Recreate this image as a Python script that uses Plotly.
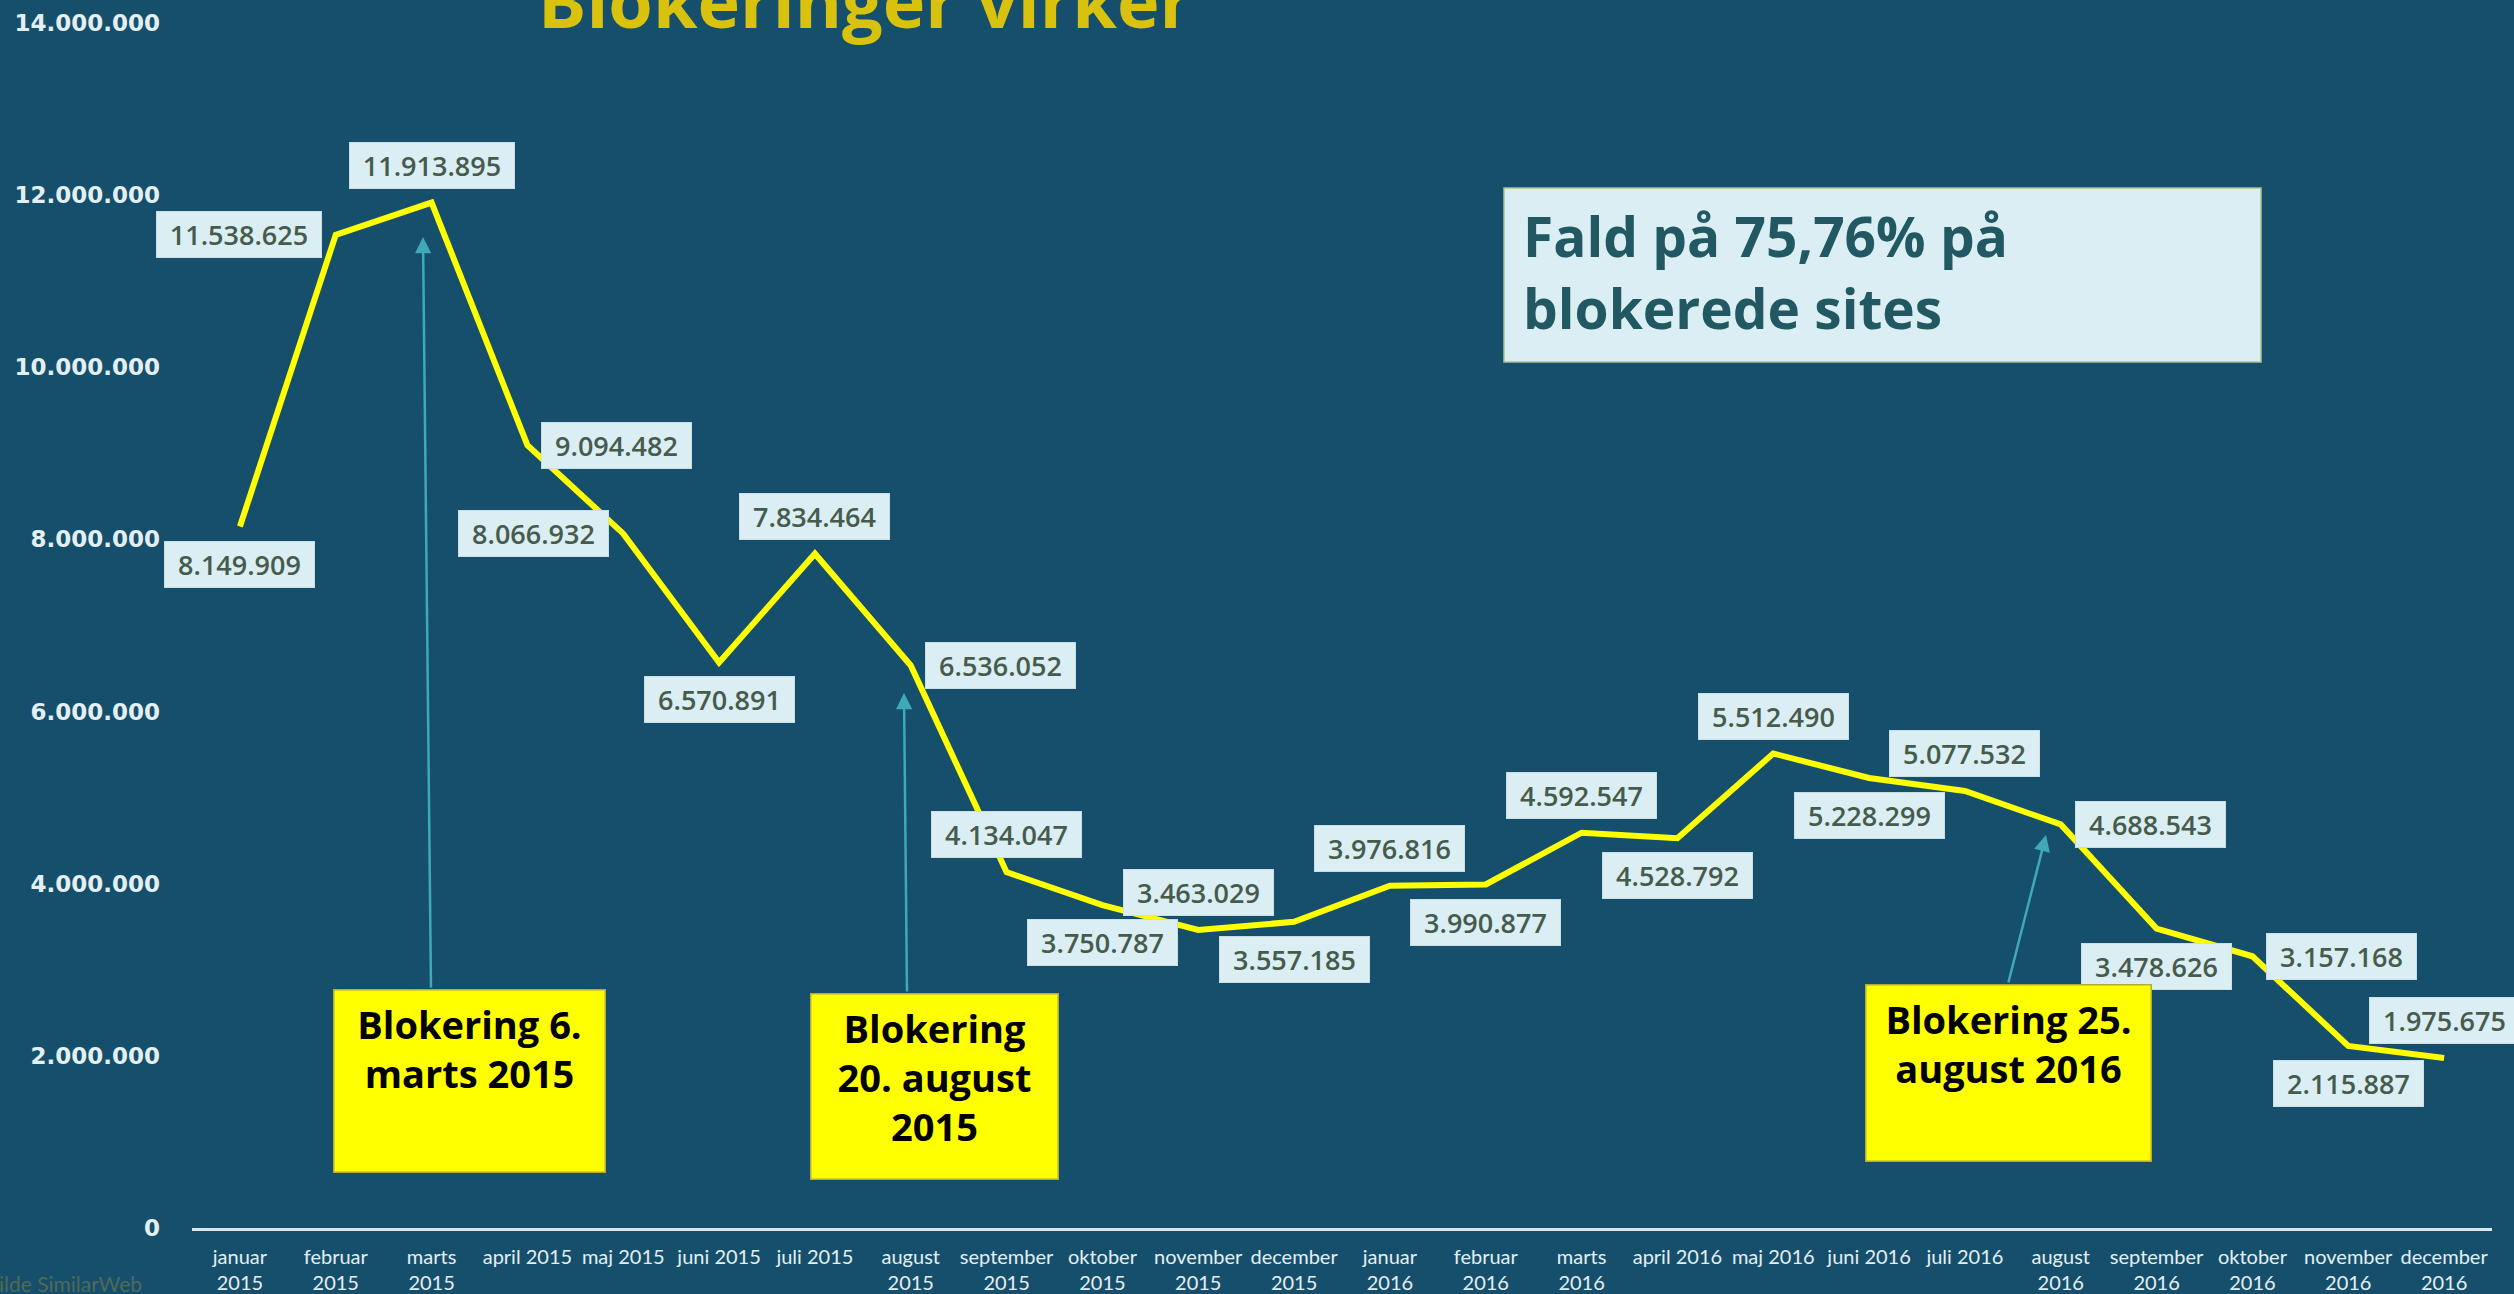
import plotly.graph_objects as go

# ---------------- data ----------------
months = ["januar 2015", "februar 2015", "marts 2015", "april 2015", "maj 2015", "juni 2015",
          "juli 2015", "august 2015", "september 2015", "oktober 2015", "november 2015", "december 2015",
          "januar 2016", "februar 2016", "marts 2016", "april 2016", "maj 2016", "juni 2016",
          "juli 2016", "august 2016", "september 2016", "oktober 2016", "november 2016", "december 2016"]

tick_labels = ["januar<br>2015", "februar<br>2015", "marts<br>2015", "april 2015", "maj 2015", "juni 2015",
               "juli 2015", "august<br>2015", "september<br>2015", "oktober<br>2015", "november<br>2015",
               "december<br>2015", "januar<br>2016", "februar<br>2016", "marts<br>2016", "april 2016",
               "maj 2016", "juni 2016", "juli 2016", "august<br>2016", "september<br>2016",
               "oktober<br>2016", "november<br>2016", "december<br>2016"]

visits = [8149909, 11538625, 11913895, 9094482, 8066932, 6570891, 7834464, 6536052,
          4134047, 3750787, 3463029, 3557185, 3976816, 3990877, 4592547, 4528792,
          5512490, 5228299, 5077532, 4688543, 3478626, 3157168, 2115887, 1975675]

label_side = ["below", "left", "above", "right", "left", "below", "above", "right",
              "above", "below", "above", "below", "above", "below", "above", "below",
              "above", "below", "above", "right", "below", "right", "below", "above"]

y_tick_vals = [0, 2000000, 4000000, 6000000, 8000000, 10000000, 12000000, 14000000]
y_tick_text = ["0", "2.000.000", "4.000.000", "6.000.000", "8.000.000", "10.000.000", "12.000.000", "14.000.000"]

title_text = "Blokeringer virker"
source_text = "Kilde SimilarWeb"
summary_text = "Fald på 75,76% på<br>blokerede sites"
events = ["Blokering 6.<br>marts 2015", "Blokering<br>20. august<br>2015", "Blokering 25.<br>august 2016"]

# ---------------- geometry helpers ----------------
W, H = 2514, 1294
ML, MR, MT, MB = 192, 22, 23, 66
PW = W - ML - MR
PH = H - MT - MB


def fx(px):
    return (px - ML) / PW


def fy(py):
    return (H - MB - py) / PH


BG = "#164f6c"
LABEL_BG = "#daeef3"
LABEL_FG = "#475b4d"
TICK_FG = "#e4eff3"

fig = go.Figure()
fig.add_trace(go.Scatter(
    x=months, y=visits, mode="lines",
    line=dict(color="#ffff00", width=6),
    hoverinfo="skip", showlegend=False, cliponaxis=False,
))

annotations = []

# data labels
for m, v, side in zip(months, visits, label_side):
    txt = f"{v:,}".replace(",", ".")
    w = 141 if len(txt) <= 9 else 156
    a = dict(x=m, y=v, xref="x", yref="y", text=txt, showarrow=False,
             font=dict(family="Open Sans", size=27, color=LABEL_FG, weight=600),
             bgcolor=LABEL_BG, bordercolor="#c9dfe6", borderwidth=1, borderpad=4,
             width=w, align="center")
    if side == "above":
        a.update(xanchor="center", yanchor="bottom", yshift=14)
    elif side == "below":
        a.update(xanchor="center", yanchor="top", yshift=-14)
    elif side == "left":
        a.update(xanchor="right", yanchor="middle", xshift=-14)
    else:
        a.update(xanchor="left", yanchor="middle", xshift=14)
    annotations.append(a)

# arrows (tip, tail) in pixels
arrows = [((423, 237), (431, 989)), ((904, 693), (907, 993)), ((2046, 835), (2008, 984))]
for (tx, ty), (sx, sy) in arrows:
    annotations.append(dict(
        x=fx(tx), y=fy(ty), xref="paper", yref="paper", text="",
        showarrow=True, arrowhead=2, arrowsize=1.3, arrowwidth=2.5, arrowcolor="#40a8b8",
        ax=sx - tx, ay=sy - ty, standoff=0, startstandoff=0,
    ))

# yellow event boxes (left, top, right, bottom)
boxes = [(333, 989, 606, 1173), (810, 993, 1059, 1180), (1865, 984, 2152, 1162)]
for (x0, y0, x1, y1), txt in zip(boxes, events):
    bw, bp = 1.5, 7
    annotations.append(dict(
        x=fx((x0 + x1) / 2), y=fy(y0), xref="paper", yref="paper",
        xanchor="center", yanchor="top", text=txt, showarrow=False,
        font=dict(family="Open Sans", size=38, color="#000000", weight="bold"),
        bgcolor="#ffff00", bordercolor="#b3ad35", borderwidth=bw, borderpad=bp,
        width=(x1 - x0) - 2 * (bw + bp), height=(y1 - y0) - 2 * (bw + bp),
        align="center", valign="top",
    ))

# summary box text
annotations.append(dict(
    x=fx(1522), y=fy(197), xref="paper", yref="paper", xanchor="left", yanchor="top",
    text=summary_text, showarrow=False, align="left", borderpad=0,
    font=dict(family="Open Sans", size=55, color="#215862", weight="bold"),
))

# title (clipped at top)
annotations.append(dict(
    x=fx(537), y=fy(50), xref="paper", yref="paper", xanchor="left", yanchor="bottom",
    text=title_text, showarrow=False, borderpad=0,
    font=dict(family="Open Sans", size=72, color="#d8c20e", weight="bold"),
))

# source
annotations.append(dict(
    x=fx(143), y=fy(1283), xref="paper", yref="paper", xanchor="right", yanchor="middle",
    text=source_text, showarrow=False, borderpad=0,
    font=dict(family="Lato", size=21, color="#4f6a55"),
))

shapes = [dict(type="rect", xref="paper", yref="paper",
               x0=fx(1504), x1=fx(2261), y0=fy(362), y1=fy(188),
               fillcolor=LABEL_BG, line=dict(color="#a8c48e", width=1.5), layer="below")]

fig.update_layout(
    width=W, height=H,
    margin=dict(l=ML, r=MR, t=MT, b=MB, autoexpand=False),
    paper_bgcolor=BG, plot_bgcolor=BG,
    showlegend=False,
    annotations=annotations,
    shapes=shapes,
    xaxis=dict(
        type="category", categoryorder="array", categoryarray=months,
        range=[-0.5, len(months) - 0.5],
        tickmode="array", tickvals=months, ticktext=tick_labels,
        showgrid=False, zeroline=False, showline=True, linecolor="#dbe7ed", linewidth=3,
        ticks="", tickfont=dict(family="Lato", size=20, color=TICK_FG),
        ticklabelstandoff=9, fixedrange=True,
    ),
    yaxis=dict(
        range=[0, 14000000], tickmode="array", tickvals=y_tick_vals, ticktext=y_tick_text,
        showgrid=False, zeroline=False, showline=False, ticks="",
        tickfont=dict(family="DejaVu Sans", size=23, color=TICK_FG, weight="bold"),
        ticklabelstandoff=31, fixedrange=True,
    ),
)

fig.write_html(
    "out.html",
    config={"displayModeBar": False},
    post_script="document.body.style.margin='0';document.body.style.overflow='hidden';",
)
